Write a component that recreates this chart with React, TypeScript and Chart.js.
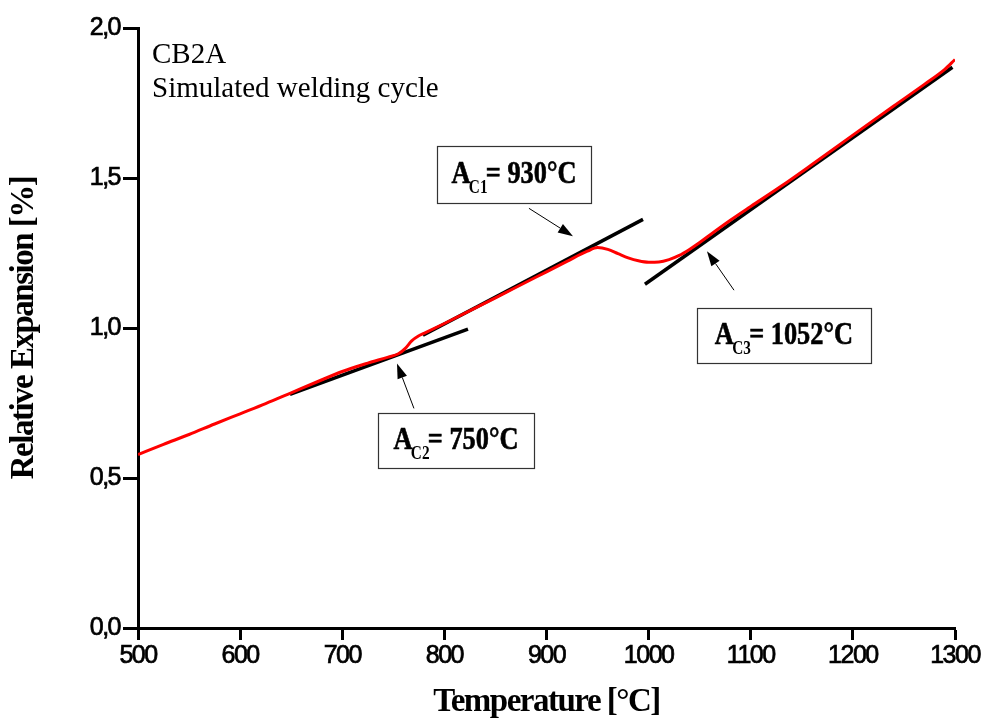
import { useEffect, useRef } from "react";
import { Chart, registerables } from "chart.js";

Chart.register(...registerables);

// Dilatometer heating curve: temperature [°C] vs relative expansion [%]
const temperatureC = [
  500, 525, 550, 575, 600, 625, 650, 675, 700, 725, 745, 755, 762, 768, 775, 780,
  800, 830, 860, 890, 920, 940, 950, 960, 970, 980, 990, 1000, 1010, 1020, 1030,
  1040, 1050, 1060, 1080, 1100, 1130, 1160, 1200, 1240, 1270, 1290, 1300,
];
const expansionPct = [
  0.578, 0.612, 0.645, 0.68, 0.714, 0.748, 0.784, 0.82, 0.855, 0.883, 0.903, 0.914,
  0.933, 0.957, 0.974, 0.982, 1.015, 1.066, 1.118, 1.17, 1.222, 1.256, 1.268, 1.262,
  1.248, 1.234, 1.224, 1.219, 1.22, 1.228, 1.242, 1.262, 1.285, 1.31, 1.359, 1.405,
  1.473, 1.545, 1.643, 1.74, 1.812, 1.862, 1.895,
];

// Straight-line fits used to locate the transformation points
const tangentC2T = [648.8, 823.1];
const tangentC2E = [0.779, 0.996];
const tangentC1T = [779, 994.5];
const tangentC1E = [0.976, 1.362];
const tangentC3T = [996.4, 1297.5];
const tangentC3E = [1.146, 1.869];

// Transformation temperatures
const transitionNames = ["C1", "C2", "C3"];
const transitionTemps = [930, 750, 1052];

// Label boxes and arrows, placed in axis units (box size in px)
const labelBoxT = [868.2, 811.4, 1132.5];
const labelBoxE = [1.511, 0.624, 0.974];
const labelBoxW = [154, 156, 174];
const labelBoxH = [57, 55, 55];
const arrowTailT = [882.8, 770.2, 1083.6];
const arrowTailE = [1.399, 0.732, 1.126];
const arrowTipT = [925.9, 753.6, 1057.1];
const arrowTipE = [1.306, 0.882, 1.256];

const headerLines = ["CB2A", "Simulated welding cycle"];

const toPoints = (xs: number[], ys: number[]) => xs.map((x, i) => ({ x, y: ys[i] }));

const SERIF = "'Liberation Serif', 'Times New Roman', serif";
const SANS = "'Liberation Sans', Arial, sans-serif";

// Tight letter spacing for the axis text, switched off again before the data is drawn
const tightAxisText = {
  id: "tightAxisText",
  beforeDraw(chart: any) {
    chart.ctx.letterSpacing = "-1.5px";
  },
  beforeDatasetsDraw(chart: any) {
    chart.ctx.letterSpacing = "0px";
  },
};

const headerPlugin = {
  id: "header",
  afterDraw(chart: any) {
    const { ctx, chartArea } = chart;
    ctx.save();
    ctx.letterSpacing = "0px";
    ctx.fillStyle = "#000";
    ctx.font = `29px ${SERIF}`;
    ctx.textBaseline = "alphabetic";
    ctx.textAlign = "left";
    ctx.fillText(headerLines[0], chartArea.left + 14, 63);
    ctx.fillText(headerLines[1], chartArea.left + 14, 97);
    ctx.restore();
  },
};

function drawArrow(ctx: CanvasRenderingContext2D, x0: number, y0: number, x1: number, y1: number) {
  const ang = Math.atan2(y1 - y0, x1 - x0);
  const headLen = 15;
  const headHalf = 5;
  const bx = x1 - headLen * Math.cos(ang);
  const by = y1 - headLen * Math.sin(ang);
  ctx.beginPath();
  ctx.moveTo(x0, y0);
  ctx.lineTo(bx, by);
  ctx.lineWidth = 1;
  ctx.strokeStyle = "#000";
  ctx.stroke();
  ctx.beginPath();
  ctx.moveTo(x1, y1);
  ctx.lineTo(bx + headHalf * Math.sin(ang), by - headHalf * Math.cos(ang));
  ctx.lineTo(bx - headHalf * Math.sin(ang), by + headHalf * Math.cos(ang));
  ctx.closePath();
  ctx.fillStyle = "#000";
  ctx.fill();
}

const transitionPlugin = {
  id: "transitions",
  afterDraw(chart: any) {
    const { ctx } = chart;
    const xs = chart.scales.x;
    const ys = chart.scales.y;
    ctx.save();
    ctx.letterSpacing = "0px";
    transitionNames.forEach((name, i) => {
      const cx = xs.getPixelForValue(labelBoxT[i]);
      const cy = ys.getPixelForValue(labelBoxE[i]);
      const w = labelBoxW[i];
      const h = labelBoxH[i];
      ctx.fillStyle = "#fff";
      ctx.fillRect(cx - w / 2, cy - h / 2, w, h);
      ctx.strokeStyle = "#333";
      ctx.lineWidth = 1.2;
      ctx.strokeRect(Math.round(cx - w / 2) + 0.5, Math.round(cy - h / 2) + 0.5, w, h);

      const big = `bold 31px ${SERIF}`;
      const small = `bold 18px ${SERIF}`;
      const rest = `= ${transitionTemps[i]}°C`;
      const sx = 0.85;
      ctx.font = big;
      const wA = ctx.measureText("A").width;
      const wR = ctx.measureText(rest).width;
      ctx.font = small;
      const wS = ctx.measureText(name).width;
      const total = (wA + wS + wR - 4) * sx;
      ctx.save();
      ctx.translate(cx - total / 2, cy);
      ctx.scale(sx, 1);
      ctx.fillStyle = "#000";
      ctx.strokeStyle = "#000";
      ctx.lineWidth = 0.6;
      ctx.textAlign = "left";
      ctx.textBaseline = "alphabetic";
      ctx.font = big;
      ctx.fillText("A", 0, 8);
      ctx.strokeText("A", 0, 8);
      ctx.font = small;
      ctx.fillText(name, wA - 2, 18);
      ctx.font = big;
      ctx.fillText(rest, wA + wS - 4, 8);
      ctx.strokeText(rest, wA + wS - 4, 8);
      ctx.restore();

      drawArrow(
        ctx,
        xs.getPixelForValue(arrowTailT[i]),
        ys.getPixelForValue(arrowTailE[i]),
        xs.getPixelForValue(arrowTipT[i]),
        ys.getPixelForValue(arrowTipE[i])
      );
    });
    ctx.restore();
  },
};

export default function App() {
  const canvasRef = useRef<HTMLCanvasElement | null>(null);

  useEffect(() => {
    if (!canvasRef.current) return;
    const tangentStyle = {
      borderColor: "#000",
      borderWidth: 3.5,
      pointRadius: 0,
      showLine: true,
      borderCapStyle: "butt" as const,
    };
    const chart = new Chart(canvasRef.current, {
      type: "scatter",
      data: {
        datasets: [
          {
            label: "Relative expansion",
            data: toPoints(temperatureC, expansionPct),
            borderColor: "#ff0000",
            borderWidth: 3,
            pointRadius: 0,
            showLine: true,
            tension: 0.4,
            cubicInterpolationMode: "monotone",
          },
          { label: "Tangent AC2", data: toPoints(tangentC2T, tangentC2E), ...tangentStyle },
          { label: "Tangent AC1", data: toPoints(tangentC1T, tangentC1E), ...tangentStyle },
          { label: "Tangent AC3", data: toPoints(tangentC3T, tangentC3E), ...tangentStyle },
        ],
      },
      options: {
        responsive: false,
        animation: false,
        layout: { padding: { top: 28, right: 31, left: 0, bottom: 0 } },
        plugins: {
          legend: { display: false },
          tooltip: { enabled: false },
        },
        scales: {
          x: {
            type: "linear",
            min: 500,
            max: 1300,
            ticks: {
              stepSize: 100,
              color: "#000",
              font: { family: SANS, size: 25 },
              textStrokeColor: "#000",
              textStrokeWidth: 0.7,
              padding: 1,
              maxRotation: 0,
              callback: (v: any) => String(v),
            },
            grid: {
              display: true,
              drawOnChartArea: false,
              drawTicks: true,
              tickLength: 12,
              tickWidth: 3,
              tickColor: "#000",
            },
            border: { display: true, color: "#000", width: 3 },
            title: {
              display: true,
              text: "Temperature [°C]",
              color: "#000",
              font: { family: SERIF, size: 33, weight: "bold", lineHeight: 1.0 },
              padding: { top: 0, bottom: 0 },
            },
            afterFit(scale: any) {
              scale.height = 91;
            },
          },
          y: {
            type: "linear",
            min: 0,
            max: 2,
            ticks: {
              stepSize: 0.5,
              color: "#000",
              font: { family: SANS, size: 25 },
              textStrokeColor: "#000",
              textStrokeWidth: 0.7,
              padding: 3,
              callback: (v: any) => Number(v).toFixed(1).replace(".", ","),
            },
            grid: {
              display: true,
              drawOnChartArea: false,
              drawTicks: true,
              tickLength: 15,
              tickWidth: 3,
              tickColor: "#000",
            },
            border: { display: true, color: "#000", width: 3 },
            title: {
              display: true,
              text: "Relative Expansion [%]",
              color: "#000",
              font: { family: SERIF, size: 33, weight: "bold", lineHeight: 1.2 },
              padding: { top: 5, bottom: 0 },
            },
            afterFit(scale: any) {
              scale.width = 138;
            },
          },
        },
      },
      plugins: [tightAxisText, headerPlugin, transitionPlugin],
    } as any);
    return () => chart.destroy();
  }, []);

  return (
    <div style={{ position: "absolute", left: 0, top: 0, width: 986, height: 719, background: "#fff" }}>
      <canvas ref={canvasRef} width={986} height={719} />
    </div>
  );
}
